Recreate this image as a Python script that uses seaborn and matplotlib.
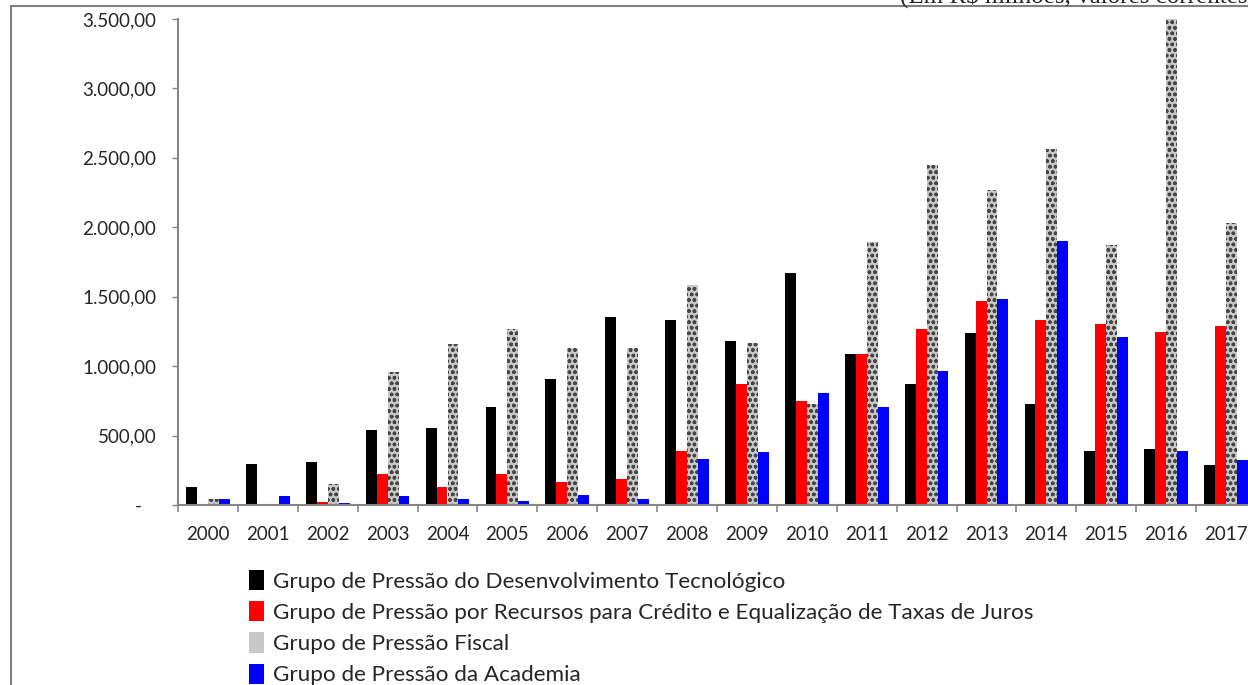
import numpy as np
import pandas as pd
import matplotlib
matplotlib.use('Agg')
import matplotlib.pyplot as plt
import seaborn as sns
from matplotlib.ticker import FuncFormatter, FixedLocator
from matplotlib.lines import Line2D

# dados (R$ milhões, valores correntes)
anos = [str(a) for a in range(2000, 2018)]
grupos = ['Grupo de Pressão do Desenvolvimento Tecnológico',
          'Grupo de Pressão por Recursos para Crédito e Equalização de Taxas de Juros',
          'Grupo de Pressão Fiscal',
          'Grupo de Pressão da Academia']
desenvolvimento = [130, 295, 310, 540, 553, 705, 906, 1352, 1330, 1179, 1668, 1086, 870, 1237, 726, 388, 403, 288]
credito = [0, 0, 25, 223, 130, 223, 165, 187, 388, 870, 748, 1086, 1265, 1467, 1330, 1301, 1244, 1287]
fiscal = [40, 0, 150, 957, 1158, 1265, 1129, 1129, 1582, 1170, 726, 1891, 2445, 2272, 2567, 1869, 3550, 2028]
academia = [40, 65, 15, 65, 40, 30, 72, 43, 331, 381, 805, 705, 963, 1481, 1898, 1208, 388, 324]
cores = ['#000000', '#ff0000', '#c8c8c8', '#0000ff']

df = pd.DataFrame({
    'ano': anos * 4,
    'grupo': np.repeat(grupos, len(anos)),
    'valor': desenvolvimento + credito + fiscal + academia,
})

sns.set_style('white')
plt.rcParams['font.family'] = ['Lato', 'DejaVu Sans']

fig = plt.figure(figsize=(12.48, 6.85), dpi=100)
ax = fig.add_axes([178 / 1248, 1 - 505 / 685, 1078 / 1248, 486 / 685])

sns.barplot(data=df, x='ano', y='valor', hue='grupo', order=anos, hue_order=grupos,
            palette=cores, width=0.73, linewidth=0, saturation=1, ax=ax)

# textura do grupo fiscal
for p in ax.containers[2].patches:
    p.set_hatch('ooo')
    p.set_edgecolor('#454545')
    p.set_linewidth(0)

ax.set_ylim(0, 3500)
ax.set_xlim(-0.5, 17.5)
ax.set_yticks(np.arange(0, 3501, 500))


def fmt(v, pos):
    if v == 0:
        return '-   '
    s = f'{v:,.2f}'
    return s.replace(',', 'X').replace('.', ',').replace('X', '.')


ax.yaxis.set_major_formatter(FuncFormatter(fmt))
ax.set_xlabel('')
ax.set_ylabel('')

for s in ['top', 'right']:
    ax.spines[s].set_visible(False)
for s in ['left', 'bottom']:
    ax.spines[s].set_color('#868686')
    ax.spines[s].set_linewidth(1.5)

ax.tick_params(axis='y', direction='out', length=4.5, width=1, color='#868686',
               pad=11, labelsize=13.5, left=True)
ax.xaxis.set_minor_locator(FixedLocator(np.arange(-0.5, 18, 1)))
ax.tick_params(axis='x', which='major', length=0, pad=15, labelsize=13.5)
ax.tick_params(axis='x', which='minor', direction='out', length=5, width=1.2,
               color='#868686', bottom=True)

# legenda
handles, labels = ax.get_legend_handles_labels()
ax.get_legend().remove()
fig.legend(handles, labels, loc='upper left', bbox_to_anchor=(240 / 1248, 1 - 561 / 685),
           frameon=False, fontsize=16.2, handlelength=0.65, handleheight=1.0,
           handletextpad=0.4, labelspacing=0.42, borderaxespad=0)

# moldura e nota (cortadas no original)
fig.add_artist(Line2D([11 / 1248, 11 / 1248], [0, 1 - 6 / 685], color='#808080', lw=1.5))
fig.add_artist(Line2D([11 / 1248, 1], [1 - 6 / 685, 1 - 6 / 685], color='#808080', lw=1.5))
fig.text(900 / 1248, 1 - 3 / 685, '(Em R$ milhões, valores correntes)',
         family=['Liberation Serif', 'DejaVu Serif'], fontsize=18, va='baseline', ha='left')

fig.savefig('out.png', dpi=100)
